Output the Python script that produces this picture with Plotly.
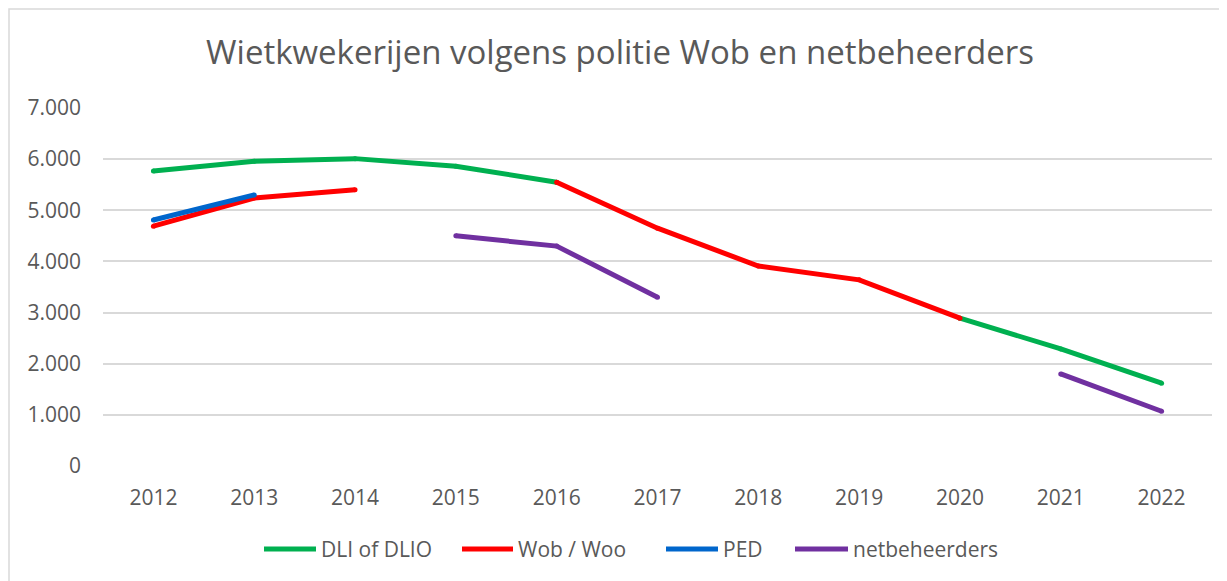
import plotly.graph_objects as go

years = [2012, 2013, 2014, 2015, 2016, 2017, 2018, 2019, 2020, 2021, 2022]
dli = [5770, 5960, 6010, 5860, 5550, None, None, None, 2890, 2290, 1620]
wob = [4690, 5240, 5400, None, 5550, 4650, 3910, 3640, 2890, None, None]
ped = [4810, 5300, None, None, None, None, None, None, None, None, None]
netb = [None, None, None, 4500, 4300, 3300, None, None, None, 1800, 1070]

series_names = ["DLI of DLIO", "Wob / Woo", "PED", "netbeheerders"]
series_data = [dli, wob, ped, netb]
series_colors = ["#00B050", "#FF0000", "#0066CC", "#7030A0"]

title_text = "Wietkwekerijen volgens politie Wob en netbeheerders"
y_ticks = [0, 1000, 2000, 3000, 4000, 5000, 6000, 7000]

FONT = "Open Sans, Liberation Sans, sans-serif"
GREY = "#595959"
OFF = 8  # page body margin offset
W, H = 1227, 581
ML, MT = 103 - OFF, 108 - OFF
MR = W - (1212 - OFF)
MB = H - (466 - OFF)
PW = W - ML - MR
PH = H - MT - MB

def px2x(px):
    return (px - OFF - ML) / PW

def py2y(py):
    return 1 - (py - OFF - MT) / PH

fig = go.Figure()
for name, data, col in zip(series_names, series_data, series_colors):
    fig.add_trace(go.Scatter(
        x=years, y=data, name=name, mode="lines+markers",
        line=dict(color=col, width=5),
        marker=dict(color=col, size=5, line=dict(width=0)),
        connectgaps=False, showlegend=False, hoverinfo="x+y+name",
    ))

shapes = []
annotations = []
# outer chart border (only top/left visible in the reference)
shapes.append(dict(type="rect", xref="paper", yref="paper",
                   x0=px2x(9), x1=px2x(W + 40), y0=py2y(H + 40), y1=py2y(9),
                   line=dict(color="#D9D9D9", width=1.5), layer="below"))

# custom legend (Excel-style long swatches)
legend_pos = [(262, 318), (460, 515), (664, 720), (793, 850)]
leg_y = py2y(549)
for (x0, x1), name, col in zip(legend_pos, series_names, series_colors):
    shapes.append(dict(type="line", xref="paper", yref="paper",
                       x0=px2x(x0 + 2), x1=px2x(x1 - 2), y0=leg_y, y1=leg_y,
                       line=dict(color=col, width=5)))
    annotations.append(dict(xref="paper", yref="paper", x=px2x(x1 + 1), y=leg_y,
                            text=name, showarrow=False, xanchor="left", yanchor="middle",
                            font=dict(family=FONT, size=21, color=GREY)))

fig.update_layout(
    width=W, height=H,
    margin=dict(l=ML, r=MR, t=MT, b=MB),
    paper_bgcolor="white", plot_bgcolor="white",
    separators=",.",
    font=dict(family=FONT, color=GREY),
    title=dict(text=title_text, x=(620 - OFF) / W, xref="container", xanchor="center",
               y=1 - (52 - OFF) / H, yref="container", yanchor="middle",
               font=dict(family=FONT, size=33, color=GREY)),
    xaxis=dict(range=[2011.5, 2022.5], tickvals=years, ticktext=[str(y) for y in years],
               showgrid=False, zeroline=False, showline=False, ticks="",
               ticklabelstandoff=17,
               tickfont=dict(family=FONT, size=21, color=GREY), fixedrange=True),
    yaxis=dict(range=[0, 7000], tickvals=y_ticks, tickformat=",d",
               showgrid=True, gridcolor="#D9D9D9", gridwidth=1.5,
               zeroline=False, showline=False, ticks="",
               ticklabelstandoff=21,
               tickfont=dict(family=FONT, size=21, color=GREY), fixedrange=True),
    shapes=shapes, annotations=annotations,
    showlegend=False,
)

fig.write_html("out.html")
